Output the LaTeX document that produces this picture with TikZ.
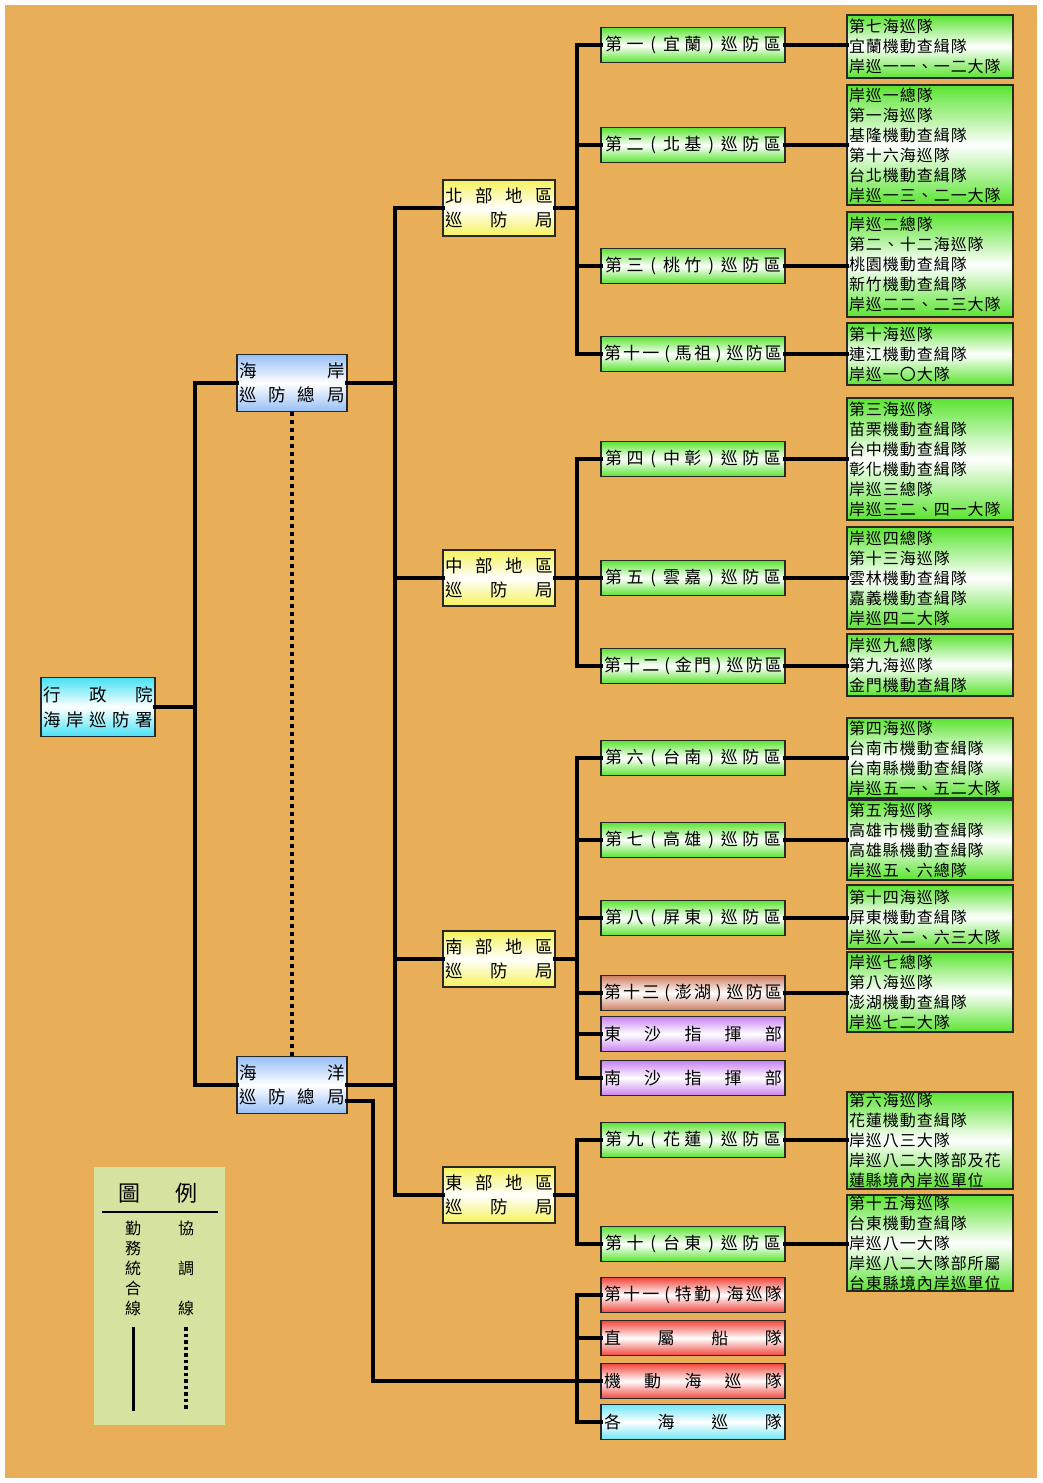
\documentclass[tikz,border=0pt]{standalone}
\usepackage{fontspec}
\setmainfont{Noto Sans CJK TC}
\newfontfamily\rfont[LetterSpace=6]{Noto Sans CJK TC}
\usetikzlibrary{calc}
\definecolor{corange}{RGB}{232,174,88}
\definecolor{cgreen}{RGB}{90,228,48}
\definecolor{cyellow}{RGB}{245,242,90}
\definecolor{cblue}{RGB}{150,190,245}
\definecolor{ccyan}{RGB}{70,225,245}
\definecolor{cbrown}{RGB}{205,125,95}
\definecolor{cpurple}{RGB}{200,130,240}
\definecolor{cred}{RGB}{240,70,60}
\definecolor{csky}{RGB}{110,230,245}
\definecolor{clegend}{RGB}{214,226,160}
\definecolor{cborder}{RGB}{40,40,40}
\ExplSyntaxOn
\NewDocumentCommand{\spreadtext}{m m}
  {
    \makebox[#1][s]{ \tl_map_inline:nn {#2} { ##1 \hfill } \unskip }
  }
\dim_new:N \l_sp_unit_dim
\int_new:N \l_sp_units_int
\cs_new:Npn \sp_if_paren:nTF #1 #2 #3
  {
    \bool_lazy_or:nnTF { \str_if_eq_p:nn {#1} {(} } { \str_if_eq_p:nn {#1} {)} } {#2} {#3}
  }
\NewDocumentCommand{\slottext}{m m}
  {
    \int_zero:N \l_sp_units_int
    \tl_map_inline:nn {#2}
      { \sp_if_paren:nTF {##1} { \int_add:Nn \l_sp_units_int {7} } { \int_add:Nn \l_sp_units_int {10} } }
    \dim_set:Nn \l_sp_unit_dim { (#1) / \l_sp_units_int }
    \hbox_to_wd:nn {#1}
      {
        \tl_map_inline:nn {#2}
          {
            \sp_if_paren:nTF {##1}
              { \hbox_to_wd:nn { 7\l_sp_unit_dim } { \hfil ##1 \hfil } }
              { \hbox_to_wd:nn { 10\l_sp_unit_dim } { \hfil ##1 \hfil } }
          }
      }
  }
\ExplSyntaxOff
\begin{document}
\begin{tikzpicture}[x=1pt,y=-1pt,
  conn/.style={line width=3.5pt, line cap=rect},
  box/.style={draw=cborder, line width=1.4pt, inner sep=0pt, outer sep=0pt},
  gr/.style={top color=cgreen, bottom color=cgreen, middle color=white},
  yl/.style={top color=cyellow, bottom color=cyellow, middle color=white},
  bl/.style={top color=cblue, bottom color=cblue, middle color=white},
  cy/.style={top color=ccyan, bottom color=ccyan, middle color=white},
  br/.style={top color=cbrown, bottom color=cbrown, middle color=white},
  pu/.style={top color=cpurple, bottom color=cpurple, middle color=white},
  rd/.style={top color=cred, bottom color=cred, middle color=white},
  sk/.style={top color=csky, bottom color=csky, middle color=white},
  mid/.style={box, minimum width=184pt, minimum height=35pt, font=\fontsize{17}{20}\selectfont},
  reg/.style={box, yl, minimum width=112pt, minimum height=56pt, align=center, font=\fontsize{17.5}{24}\selectfont},
  hq/.style={box, bl, minimum width=110pt, minimum height=57pt, align=center, font=\fontsize{17.5}{24}\selectfont},
  rbox/.style={box, gr, anchor=north west, text width=162pt, align=left, inner xsep=2pt, font=\rfont\fontsize{16}{20}\selectfont}
]
\useasboundingbox (0,0) rectangle (1042,1483);
\fill[white] (0,0) rectangle (1042,1483);
\fill[corange] (5,5) rectangle (1037,1478);

\coordinate (lx) at (195,0);
\coordinate (vx) at (395,0);
\coordinate (jx) at (373,0);
\coordinate (bx) at (577,0);

% root and headquarters
\node[box, cy, minimum width=114pt, minimum height=59pt, align=center, font=\fontsize{17.5}{25}\selectfont] (root) at (98,707)
  {\spreadtext{110pt}{行政院}\\\spreadtext{110pt}{海岸巡防署}};
\node[hq] (a1) at (292,383) {\spreadtext{105pt}{海岸}\\\spreadtext{105pt}{巡防總局}};
\node[hq] (a2) at (292,1085) {\spreadtext{105pt}{海洋}\\\spreadtext{105pt}{巡防總局}};

% regional offices
\node[reg] (rn) at (499,208) {\spreadtext{107pt}{北部地區}\\\spreadtext{107pt}{巡防局}};
\node[reg] (rc) at (499,578) {\spreadtext{107pt}{中部地區}\\\spreadtext{107pt}{巡防局}};
\node[reg] (rs) at (499,959) {\spreadtext{107pt}{南部地區}\\\spreadtext{107pt}{巡防局}};
\node[reg] (re) at (499,1195) {\spreadtext{107pt}{東部地區}\\\spreadtext{107pt}{巡防局}};

% middle column
\node[mid, gr] (m1) at (693,45) {\slottext{180pt}{第一(宜蘭)巡防區}};
\node[mid, gr] (m2) at (693,145) {\slottext{180pt}{第二(北基)巡防區}};
\node[mid, gr] (m3) at (693,266) {\slottext{180pt}{第三(桃竹)巡防區}};
\node[mid, gr] (m4) at (693,354) {\slottext{180pt}{第十一(馬祖)巡防區}};
\node[mid, gr] (m5) at (693,459) {\slottext{180pt}{第四(中彰)巡防區}};
\node[mid, gr] (m6) at (693,578) {\slottext{180pt}{第五(雲嘉)巡防區}};
\node[mid, gr] (m7) at (693,666) {\slottext{180pt}{第十二(金門)巡防區}};
\node[mid, gr] (m8) at (693,758) {\slottext{180pt}{第六(台南)巡防區}};
\node[mid, gr] (m9) at (693,840) {\slottext{180pt}{第七(高雄)巡防區}};
\node[mid, gr] (m10) at (693,918) {\slottext{180pt}{第八(屏東)巡防區}};
\node[mid, br] (m11) at (693,993) {\slottext{180pt}{第十三(澎湖)巡防區}};
\node[mid, pu] (m12) at (693,1034) {\spreadtext{178pt}{東沙指揮部}};
\node[mid, pu] (m13) at (693,1078) {\spreadtext{178pt}{南沙指揮部}};
\node[mid, gr] (m14) at (693,1140) {\slottext{180pt}{第九(花蓮)巡防區}};
\node[mid, gr] (m15) at (693,1244) {\slottext{180pt}{第十(台東)巡防區}};
\node[mid, rd] (k1) at (693,1295) {\slottext{180pt}{第十一(特勤)海巡隊}};
\node[mid, rd] (k2) at (693,1338) {\spreadtext{178pt}{直屬船隊}};
\node[mid, rd] (k3) at (693,1381) {\spreadtext{178pt}{機動海巡隊}};
\node[mid, sk] (k4) at (693,1422) {\spreadtext{178pt}{各海巡隊}};

% right column
\node[rbox, minimum height=63pt] (r1) at (847,15) {第七海巡隊\\宜蘭機動查緝隊\\岸巡一一、一二大隊};
\node[rbox, minimum height=120pt] (r2) at (847,85) {岸巡一總隊\\第一海巡隊\\基隆機動查緝隊\\第十六海巡隊\\台北機動查緝隊\\岸巡一三、二一大隊};
\node[rbox, minimum height=105pt] (r3) at (847,212) {岸巡二總隊\\第二、十二海巡隊\\桃園機動查緝隊\\新竹機動查緝隊\\岸巡二二、二三大隊};
\node[rbox, minimum height=62pt] (r4) at (847,323) {第十海巡隊\\連江機動查緝隊\\岸巡一〇大隊};
\node[rbox, minimum height=122pt] (r5) at (847,398) {第三海巡隊\\苗栗機動查緝隊\\台中機動查緝隊\\彰化機動查緝隊\\岸巡三總隊\\岸巡三二、四一大隊};
\node[rbox, minimum height=102pt] (r6) at (847,527) {岸巡四總隊\\第十三海巡隊\\雲林機動查緝隊\\嘉義機動查緝隊\\岸巡四二大隊};
\node[rbox, minimum height=62pt] (r7) at (847,634) {岸巡九總隊\\第九海巡隊\\金門機動查緝隊};
\node[rbox, minimum height=80pt] (r8) at (847,718) {第四海巡隊\\台南市機動查緝隊\\台南縣機動查緝隊\\岸巡五一、五二大隊};
\node[rbox, minimum height=80pt] (r9) at (847,800) {第五海巡隊\\高雄市機動查緝隊\\高雄縣機動查緝隊\\岸巡五、六總隊};
\node[rbox, minimum height=64pt] (r10) at (847,885) {第十四海巡隊\\屏東機動查緝隊\\岸巡六二、六三大隊};
\node[rbox, minimum height=80pt] (r11) at (847,952) {岸巡七總隊\\第八海巡隊\\澎湖機動查緝隊\\岸巡七二大隊};
\node[rbox, minimum height=97pt] (r12) at (847,1092) {第六海巡隊\\花蓮機動查緝隊\\岸巡八三大隊\\岸巡八二大隊部及花\\蓮縣境內岸巡單位};
\node[rbox, minimum height=96pt] (r13) at (847,1195) {第十五海巡隊\\台東機動查緝隊\\岸巡八一大隊\\岸巡八二大隊部所屬\\台東縣境內岸巡單位};

% middle to right connectors
\foreach \m/\r in {m1/r1,m2/r2,m3/r3,m4/r4,m5/r5,m6/r6,m7/r7,m8/r8,m9/r9,m10/r10,m11/r11,m14/r12,m15/r13}
  \draw[conn] (\m.east) -- (\m.east -| \r.west);

% left trunk
\draw[conn] (a1.west -| lx) -- (a2.west -| lx);
\draw[conn] (root.east) -- (root.east -| lx);
\draw[conn] (a1.west) -- (a1.west -| lx);
\draw[conn] (a2.west) -- (a2.west -| lx);

% coordination line
\draw[line width=4pt, dash pattern=on 4pt off 4pt] (a1.south) -- (a2.north);

% second trunk
\draw[conn] (rn.west -| vx) -- (re.west -| vx);
\draw[conn] (a1.east) -- (a1.east -| vx);
\draw[conn] (a2.east) -- (a2.east -| vx);
\foreach \g in {rn,rc,rs,re}
  \draw[conn] (\g.west) -- (\g.west -| vx);

% buses
\draw[conn] (m1.west -| bx) -- (m4.west -| bx);
\draw[conn] (rn.east) -- (rn.east -| bx);
\draw[conn] (m5.west -| bx) -- (m7.west -| bx);
\draw[conn] (rc.east) -- (rc.east -| bx);
\draw[conn] (m8.west -| bx) -- (m13.west -| bx);
\draw[conn] (rs.east) -- (rs.east -| bx);
\draw[conn] (m14.west -| bx) -- (m15.west -| bx);
\draw[conn] (re.east) -- (re.east -| bx);
\draw[conn] (k1.west -| bx) -- (k4.west -| bx);
\foreach \m in {m1,m2,m3,m4,m5,m6,m7,m8,m9,m10,m11,m12,m13,m14,m15,k1,k2,k3,k4}
  \draw[conn] (\m.west) -- (\m.west -| bx);

% ocean HQ to its fleets
\draw[conn] ([yshift=-16pt]a2.east) -- ([yshift=-16pt]a2.east -| jx) -- (k3.west -| jx) -- (k3.west -| bx);

% legend
\node[fill=clegend, anchor=north west, minimum width=131pt, minimum height=258pt, inner sep=0pt] (lg) at (94,1167) {};
\node[font=\fontsize{22}{24}\selectfont, inner sep=0pt] (lgt) at (158,1193) {\spreadtext{80pt}{圖例}};
\draw[line width=2.5pt] (102,1212) coordinate (ula) -- (218,1212) coordinate (ulb);
\node[font=\fontsize{16}{20}\selectfont, align=center, inner sep=0pt] (lgl) at (133,1268) {勤\\務\\統\\合\\線};
\node[font=\fontsize{16}{40}\selectfont, align=center, inner sep=0pt] (lgr) at (186,1268) {協\\調\\線};
\coordinate (sl1) at (133,1327);
\coordinate (sl2) at (133,1411);
\coordinate (dl1) at (186,1327);
\coordinate (dl2) at (186,1411);
\draw[line width=3pt] (sl1) -- (sl2);
\draw[line width=3.5pt, dash pattern=on 3.5pt off 3pt] (dl1) -- (dl2);
\end{tikzpicture}
\end{document}
